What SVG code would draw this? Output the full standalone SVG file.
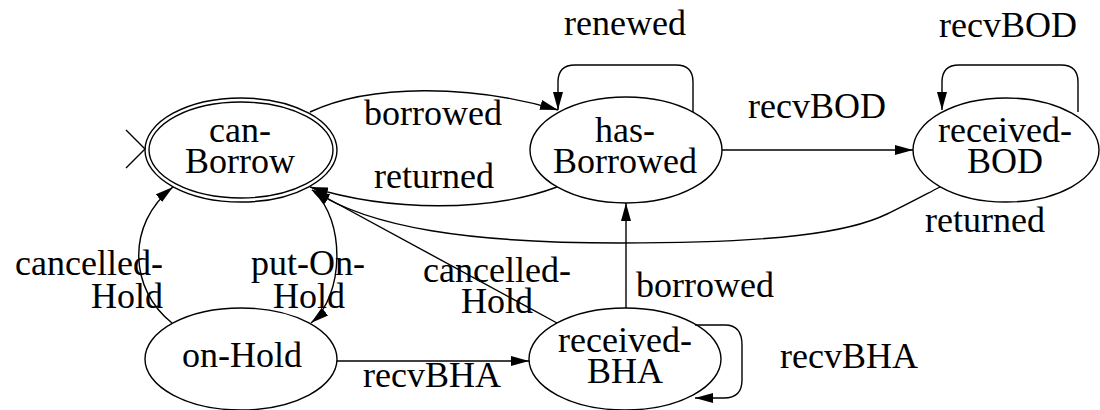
<svg xmlns="http://www.w3.org/2000/svg" width="1100" height="410" viewBox="0 0 1100 410">
<style>
text { font-family: "Liberation Serif", "Times New Roman", serif; font-size: 36px; fill: #000; text-anchor: middle; }
ellipse { fill: none; stroke: #000; stroke-width: 1.4; }
.edge { fill: none; stroke: #000; stroke-width: 1.4; marker-end: url(#arrow); }
.plain { fill: none; stroke: #000; stroke-width: 1.4; }
</style>
<defs>
<marker id="arrow" viewBox="0 0 18 10" refX="18" refY="5" markerWidth="18" markerHeight="10" markerUnits="userSpaceOnUse" orient="auto">
<path d="M0,0 L18,5 L0,10 z" fill="#000"/>
</marker>
</defs>
<rect width="1100" height="410" fill="#fff"/>
<g id="connectors">
<path class="plain" d="M126,130 L145,149 L126,168"/>
<path class="edge" d="M310,112 C370,84 470,84 558,110"/>
<path class="edge" d="M557,187 C490,212 390,212 310,187"/>
<path class="edge" d="M693,112 V82 Q693,65 676,65 H575 Q558,65 558,82 V110"/>
<path class="edge" d="M722,150 H913"/>
<path class="edge" d="M1078,112 V82 Q1078,65 1061,65 H959 Q942,65 942,82 V110"/>
<path class="edge" d="M940,187 C915,200 900,208 887,214 C850,232 780,243 620,243 C470,243 370,228 312,190"/>
<path class="edge" d="M557,323 L312,190"/>
<path class="edge" d="M172,323 C130,290 125,225 173,187"/>
<path class="edge" d="M314,192 C345,220 345,295 311,323"/>
<path class="edge" d="M337,361 H529"/>
<path class="edge" d="M695,325 H725 Q742,325 742,345 V380 Q742,398 724,398 H695"/>
<path class="edge" d="M626,308 V203"/>
<text x="433" y="125">borrowed</text>
<text x="434" y="188">returned</text>
<text x="625" y="35">renewed</text>
<text x="817" y="118">recvBOD</text>
<text x="1008" y="37">recvBOD</text>
<text x="985" y="232">returned</text>
<text x="163" y="275" style="text-anchor:end">cancelled-</text>
<text x="163" y="308" style="text-anchor:end">Hold</text>
<text x="308" y="275">put-On-</text>
<text x="309" y="308">Hold</text>
<text x="497" y="282">cancelled-</text>
<text x="497" y="313">Hold</text>
<text x="705" y="297">borrowed</text>
<text x="432" y="387">recvBHA</text>
<text x="849" y="368">recvBHA</text>
</g>
<g id="canBorrow">
<ellipse cx="241" cy="150" rx="96" ry="52"/>
<ellipse cx="241" cy="150" rx="92" ry="48"/>
<text x="240" y="142">can-</text>
<text x="240" y="173">Borrow</text>
</g>
<g id="hasBorrowed">
<ellipse cx="626" cy="150" rx="96" ry="53"/>
<text x="625" y="142">has-</text>
<text x="625" y="173">Borrowed</text>
</g>
<g id="receivedBOD">
<ellipse cx="1006" cy="150" rx="93" ry="52"/>
<text x="1005" y="142">received-</text>
<text x="1005" y="173">BOD</text>
</g>
<g id="onHold">
<ellipse cx="241" cy="359" rx="96" ry="51"/>
<text x="242" y="367">on-Hold</text>
</g>
<g id="receivedBHA">
<ellipse cx="625" cy="359" rx="96" ry="51"/>
<text x="625" y="352">received-</text>
<text x="625" y="383">BHA</text>
</g>
</svg>
